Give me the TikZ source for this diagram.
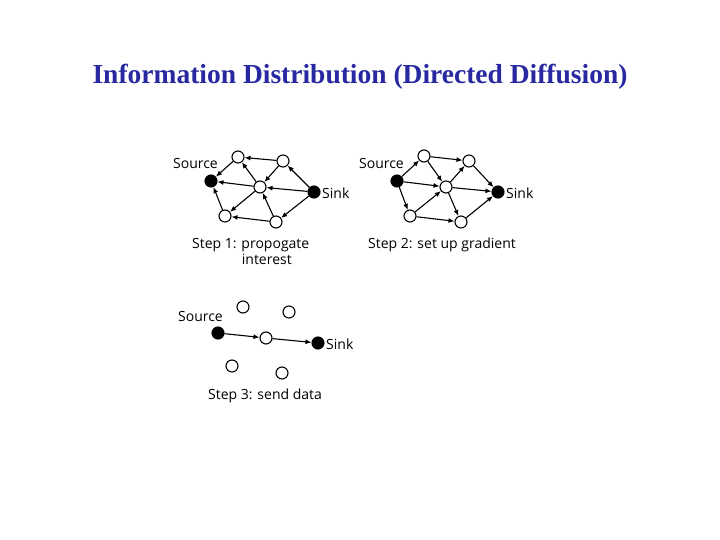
\documentclass[tikz,border=0pt]{standalone}
\usepackage{fontspec}
\setmainfont{Liberation Serif}
\newfontfamily\lab{Open Sans}
\usetikzlibrary{arrows.meta}
\definecolor{ttl}{RGB}{40,40,160}
\begin{document}
\begin{tikzpicture}[x=1pt,y=-1pt,
  wn/.style={circle,draw,line width=1.1pt,fill=white,minimum size=12pt,inner sep=0pt},
  bn/.style={circle,draw,line width=1.1pt,fill=black,minimum size=12pt,inner sep=0pt},
  ar/.style={-{Latex[length=6pt,width=5pt]},line width=1.1pt},
  lb/.style={font=\lab\fontsize{14}{16}\selectfont,inner sep=1pt}]
\useasboundingbox (0,0) rectangle (720,540);
\node[font=\bfseries\fontsize{27.5}{30}\selectfont,text=ttl] (title) at (360,77) {Information Distribution (Directed Diffusion)};
% Step 1
\node[wn] (a1) at (238,157) {}; \node[wn] (b1) at (283,161) {};
\node[bn] (s1) at (211,181) {}; \node[wn] (c1) at (260,187) {};
\node[bn] (k1) at (314,192) {}; \node[wn] (d1) at (225,216) {};
\node[wn] (e1) at (276,222) {};
\foreach \u/\v in {k1/b1,k1/c1,k1/e1,b1/a1,b1/c1,e1/c1,c1/a1,c1/s1,a1/s1,c1/d1,e1/d1,d1/s1}
  \draw[ar] (\u) -- (\v);
\node[lb,anchor=east] (src1) at (219,164) {Source};
\node[lb,anchor=west] (snk1) at (321,193) {Sink};
\node[lb,anchor=north west,align=left] (st1) at (191,237) {Step 1: propogate\\\hspace*{3.55em}interest};
% Step 2
\node[wn] (a2) at (424,156) {}; \node[wn] (b2) at (469,161) {};
\node[bn] (s2) at (397,181) {}; \node[wn] (c2) at (446,187) {};
\node[bn] (k2) at (498,192) {}; \node[wn] (d2) at (410,216) {};
\node[wn] (e2) at (461,222) {};
\foreach \u/\v in {a2/b2,b2/k2,s2/a2,s2/c2,s2/d2,a2/c2,d2/c2,d2/e2,c2/b2,c2/e2,c2/k2,e2/k2}
  \draw[ar] (\u) -- (\v);
\node[lb,anchor=east] (src2) at (405,164) {Source};
\node[lb,anchor=west] (snk2) at (505,193) {Sink};
\node[lb,anchor=north west] (st2) at (367,237) {Step 2: set up gradient};
% Step 3
\node[wn] (a3) at (243,307) {}; \node[wn] (b3) at (289,312) {};
\node[bn] (s3) at (218,333) {}; \node[wn] (c3) at (266,338) {};
\node[bn] (k3) at (318,343) {}; \node[wn] (d3) at (232,366) {};
\node[wn] (e3) at (282,373) {};
\draw[ar] (s3) -- (c3); \draw[ar] (c3) -- (k3);
\node[lb,anchor=east] (src3) at (224,316) {Source};
\node[lb,anchor=west] (snk3) at (325,344) {Sink};
\node[lb,anchor=north west] (st3) at (207,388) {Step 3: send data};
\end{tikzpicture}
\end{document}
